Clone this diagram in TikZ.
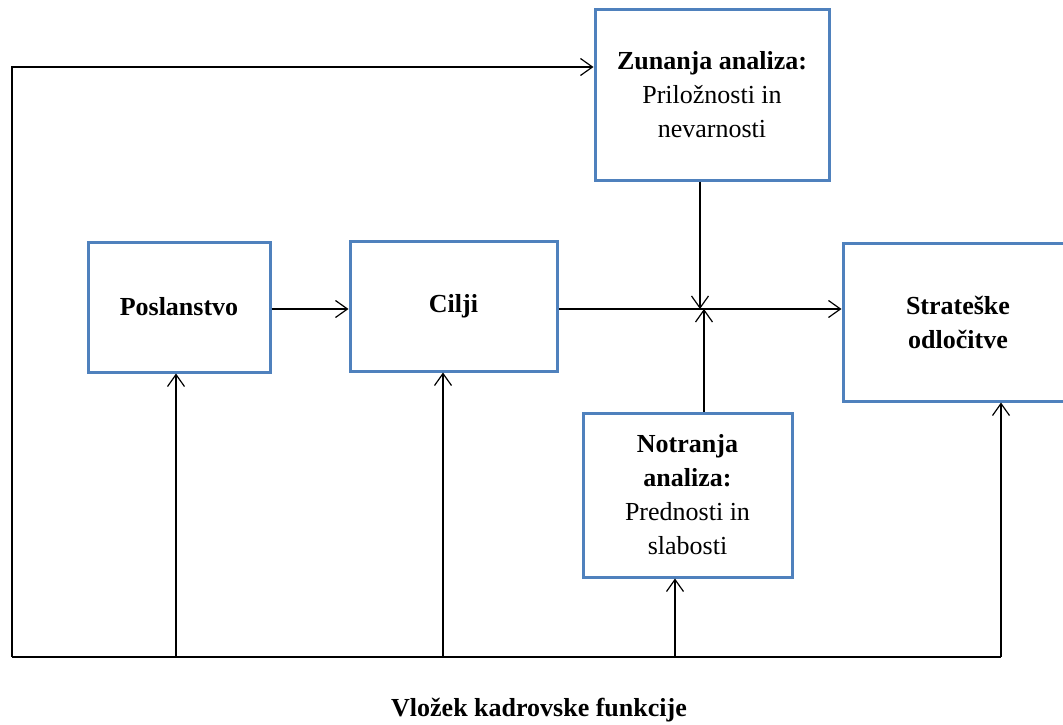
\documentclass[tikz,border=0pt]{standalone}
\usepackage{fontspec}
\setmainfont{Liberation Serif}
\usetikzlibrary{arrows.meta}
\definecolor{boxblue}{RGB}{79,129,189}
\tikzset{
  blk/.style={draw=boxblue, line width=3pt, rectangle, align=center,
    font=\fontsize{26}{34}\selectfont, inner sep=4pt},
  wire/.style={draw=black, line width=1.2pt},
  arr/.style={wire, -{Straight Barb[length=12pt,width=17pt,line width=1.2pt]}}
}
\begin{document}
\begin{tikzpicture}[x=1pt,y=-1pt]
\useasboundingbox (0,0) rectangle (1063,725);
\clip (0,0) rectangle (1063,725);

% blocks
\node[blk, minimum width=234, minimum height=170] (Z) at (712,95)
  {\textbf{Zunanja analiza:}\\Priložnosti in\\nevarnosti};
\node[blk, minimum width=182, minimum height=130] (P) at (179,307)
  {\textbf{Poslanstvo}};
\node[blk, minimum width=207, minimum height=130] (C) at (453.5,306)
  {\textbf{Cilji}};
\node[blk, minimum width=230, minimum height=158] (S) at (958,322)
  {\textbf{Strateške}\\\textbf{odločitve}};
\node[blk, minimum width=209, minimum height=164] (N) at (687.5,495)
  {\textbf{Notranja}\\\textbf{analiza:}\\Prednosti in\\slabosti};

% label of the feedback bus
\node[font=\fontsize{26}{30}\selectfont\bfseries] (L) at (539,710)
  {Vložek kadrovske funkcije};

% points of the bus and the junction
\coordinate (BL) at (12,657);
\coordinate (BR) at (1001,657);
\coordinate (J) at (702,309);

% main flow
\draw[arr] (P.east |- 0,309) -- (C.west |- 0,309);
\draw[arr] (C.east |- 0,309) -- (S.west |- 0,309);
\draw[arr] (Z.south -| 700,0) -- (700,309);
\draw[arr] (N.north -| 704,0) -- (704,309);

% feedback bus
\draw[wire] (BL) -- (BR);
\draw[arr] (BL) |- (Z.west |- 0,67);
\draw[arr] (176,657) -- (P.south -| 176,0);
\draw[arr] (443,657) -- (C.south -| 443,0);
\draw[arr] (675,657) -- (N.south -| 675,0);
\draw[arr] (BR) -- (S.south -| BR);
\end{tikzpicture}
\end{document}
